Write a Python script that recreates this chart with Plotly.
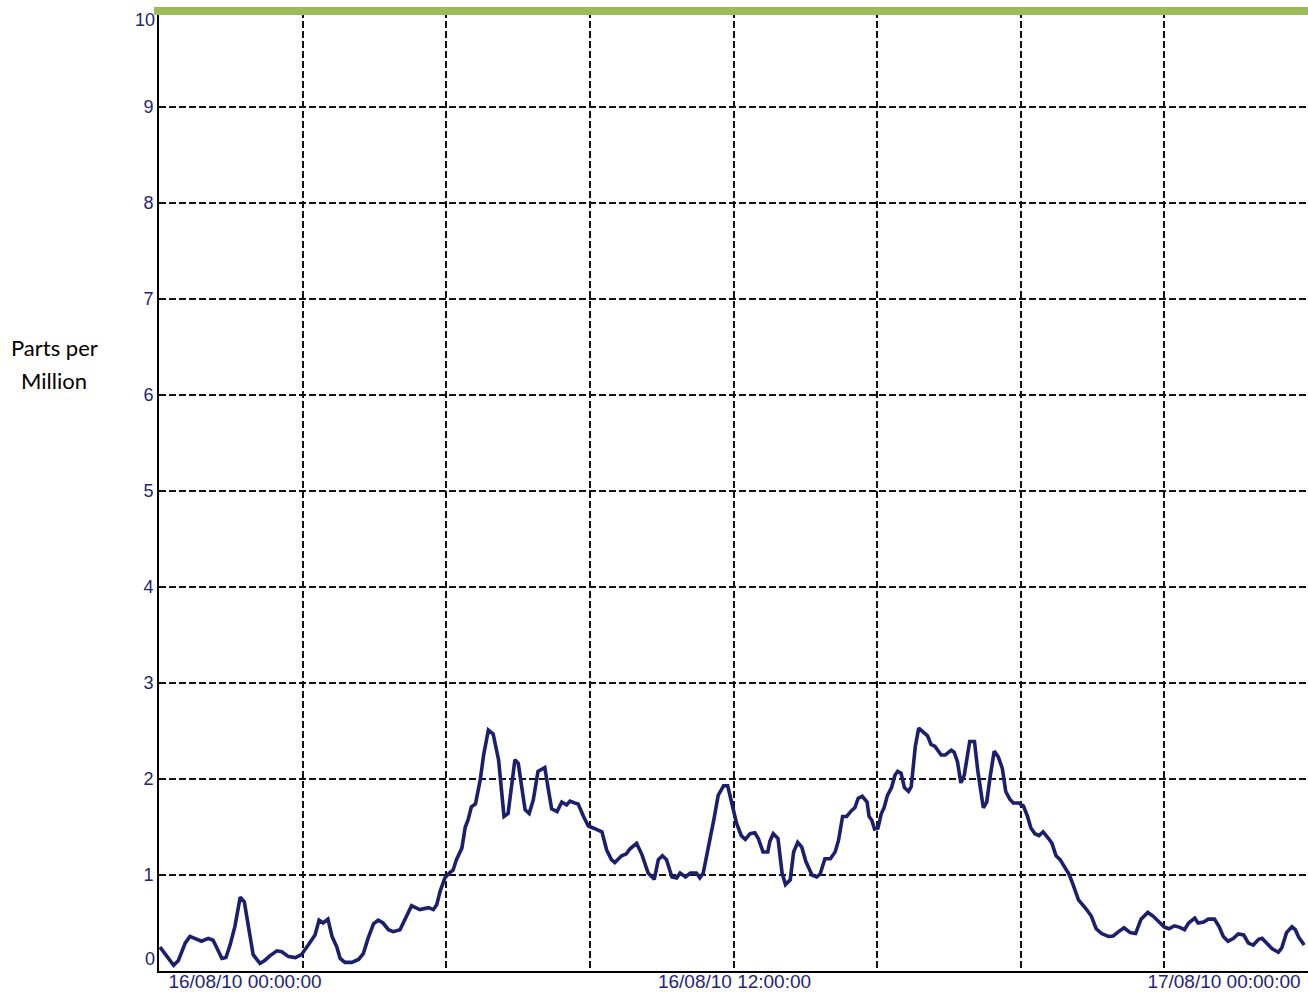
import pandas as pd
import plotly.graph_objects as go

# ---------------- data ----------------
BASE_TIME = "2010-08-16 00:00:00"          # minutes below are offsets from this
MINUTES = [
    -125, -105, -98, -88, -81, -74, -64, -54, -47, -42, -34, -28, -22, -15, -7, -1,
    5, 12, 22, 29, 37, 47, 54, 64, 74, 83, 93, 103, 109, 115, 122, 128, 135, 140,
    147, 157, 167, 174, 181, 189, 196, 203, 211,
    218, 228, 235, 245, 257, 270, 277, 282, 287, 294, 302, 306, 311, 319, 324, 328,
    333, 339, 346, 351, 358, 365, 373, 378, 381, 387, 392, 397, 402, 407, 412, 418,
    424, 431, 441, 446, 451, 459, 466, 473, 478, 485, 490, 498, 505, 512, 525, 532,
    539, 544,
    554, 561, 566, 576, 584, 593, 602, 608, 614, 620, 628, 635, 640, 648, 655, 664,
    669, 674, 681, 687, 690, 696, 704, 710, 716, 723, 730, 736, 743, 750, 755, 762,
    769, 772, 777, 784, 790, 795, 802, 807, 813, 819, 825, 834, 841, 846, 853, 861,
    868, 873, 879, 885,
    892, 897, 902, 908, 915, 918, 922, 926, 931, 936, 940, 945, 951, 956, 960, 965,
    970, 976, 980, 986, 991, 998, 1004, 1009, 1015, 1024, 1030, 1039, 1043, 1048,
    1053, 1058, 1066, 1073, 1078, 1086, 1091, 1096, 1102, 1108, 1114, 1119, 1125,
    1130, 1138, 1145, 1151, 1156, 1162, 1168, 1174, 1182, 1187, 1193, 1199, 1205,
    1212, 1218, 1226,
    1238, 1245, 1252, 1260, 1270, 1277, 1285, 1293, 1302, 1310, 1318, 1328, 1336,
    1343, 1352, 1359, 1367, 1375, 1382, 1388, 1397, 1402, 1410, 1417, 1426, 1433,
    1439, 1446, 1454, 1461, 1469, 1476, 1483, 1491, 1496, 1503, 1511, 1520, 1525,
    1532, 1540, 1545, 1550, 1558,
]
PPM = [
    0.25, 0.06, 0.11, 0.29, 0.36, 0.34, 0.31, 0.34, 0.32, 0.25, 0.13, 0.14, 0.27, 0.46, 0.77, 0.72,
    0.46, 0.17, 0.08, 0.11, 0.16, 0.21, 0.20, 0.15, 0.14, 0.17, 0.27, 0.375, 0.53, 0.50, 0.54, 0.36, 0.25, 0.13,
    0.09, 0.09, 0.12, 0.18, 0.34, 0.49, 0.53, 0.50, 0.43,
    0.41, 0.43, 0.53, 0.68, 0.64, 0.66, 0.64, 0.69, 0.83, 0.97, 1.03, 1.05, 1.16, 1.28, 1.50, 1.57,
    1.71, 1.74, 1.99, 2.25, 2.51, 2.47, 2.20, 1.87, 1.61, 1.64, 1.95, 2.20, 2.16, 1.92, 1.68, 1.64,
    1.78, 2.08, 2.12, 1.90, 1.69, 1.66, 1.76, 1.73, 1.77, 1.75, 1.74, 1.61, 1.51, 1.49, 1.45, 1.26,
    1.16, 1.13,
    1.20, 1.22, 1.27, 1.33, 1.21, 1.02, 0.955, 1.16, 1.20, 1.16, 0.98, 0.97, 1.02, 0.98, 1.02, 1.02,
    0.97, 1.02, 1.26, 1.50, 1.59, 1.83, 1.93, 1.93, 1.76, 1.54, 1.41, 1.37, 1.43, 1.44, 1.38, 1.24,
    1.24, 1.35, 1.43, 1.38, 1.02, 0.90, 0.95, 1.24, 1.34, 1.29, 1.14, 1.00, 0.98, 1.01, 1.17, 1.17,
    1.24, 1.36, 1.61, 1.61,
    1.67, 1.70, 1.80, 1.82, 1.76, 1.61, 1.57, 1.48, 1.49, 1.64, 1.70, 1.83, 1.91, 2.04, 2.08, 2.06,
    1.91, 1.87, 1.92, 2.34, 2.53, 2.48, 2.45, 2.36, 2.34, 2.25, 2.25, 2.30, 2.28, 2.18,
    1.96, 2.04, 2.39, 2.39, 2.08, 1.70, 1.76, 2.02, 2.29, 2.23, 2.11, 1.87, 1.79,
    1.75, 1.75, 1.72, 1.61, 1.49, 1.43, 1.41, 1.45, 1.38, 1.33, 1.20, 1.16, 1.09,
    1.01, 0.90, 0.74,
    0.64, 0.57, 0.44, 0.39, 0.36, 0.365, 0.41, 0.45, 0.40, 0.39, 0.54, 0.61, 0.57,
    0.52, 0.46, 0.44, 0.47, 0.455, 0.43, 0.50, 0.55, 0.50, 0.51, 0.54, 0.54, 0.46,
    0.36, 0.31, 0.34, 0.385, 0.375, 0.29, 0.27, 0.33, 0.34, 0.29, 0.23, 0.195, 0.24,
    0.40, 0.46, 0.43, 0.35, 0.27,
]
X_START = "2010-08-15 21:53:30"
X_END = "2010-08-17 02:03:36"
X_LABEL_TIMES = ["2010-08-16 00:00:00", "2010-08-16 12:00:00", "2010-08-17 00:00:00"]
Y_TICKS = [1, 2, 3, 4, 5, 6, 7, 8, 9]
Y_MIN, Y_MAX = 0, 10
N_X_DIVISIONS = 8
Y_TITLE_LINES = ["Parts per", "Million"]

# ---------------- styling ----------------
W, H = 1308, 994
ML, MR, MT, MB = 159, 0, 11, 23
PW, PH = W - ML - MR, H - MT - MB
NAVY = "#242478"
LINE_COLOR = "#1C1F6C"
GREEN = "#9BBB59"
TICK_FONT = dict(family="Liberation Sans, Arial, sans-serif", size=18, color=NAVY)
X_TICK_FONT = dict(family="Liberation Sans, Arial, sans-serif", size=19, color=NAVY)
GRID = dict(showgrid=True, gridcolor="#111111", gridwidth=1.5, griddash="7px,3px")

times = pd.Timestamp(BASE_TIME) + pd.to_timedelta(MINUTES, unit="min")
t0, t1 = pd.Timestamp(X_START), pd.Timestamp(X_END)
grid_dtick_ms = (t1 - t0).total_seconds() * 1000 / N_X_DIVISIONS

fig = go.Figure()
fig.add_trace(go.Scatter(
    x=times, y=PPM, mode="lines",
    line=dict(color=LINE_COLOR, width=3.6, shape="linear"),
    showlegend=False, hoverinfo="x+y",
))
# helper (empty) trace so the label axis is attached to the subplot
fig.add_trace(go.Scatter(x=[t0], y=[None], xaxis="x2", mode="lines",
                         showlegend=False, hoverinfo="skip"))

fig.update_layout(
    width=W, height=H,
    margin=dict(l=ML, r=MR, t=MT, b=MB, pad=0),
    paper_bgcolor="white", plot_bgcolor="white",
    showlegend=False,
    xaxis=dict(
        type="date", range=[t0, t1],
        tick0=t0, dtick=grid_dtick_ms, tickmode="linear",
        showticklabels=False, ticks="",
        showline=True, linecolor="black", linewidth=2,
        zeroline=False, **GRID,
    ),
    xaxis2=dict(
        type="date", range=[t0, t1], overlaying="x", anchor="y", side="bottom",
        tickmode="array", tickvals=X_LABEL_TIMES,
        tickformat="%d/%m/%y %H:%M:%S",
        showgrid=False, showline=False, ticks="", zeroline=False,
        tickfont=X_TICK_FONT, ticklabelstandoff=-3,
    ),
    yaxis=dict(
        range=[Y_MIN, Y_MAX], tickmode="array", tickvals=Y_TICKS,
        ticks="", tickfont=TICK_FONT,
        showline=True, linecolor="black", linewidth=2,
        zeroline=False, **GRID,
    ),
)

# threshold line at the top of the scale (y = 10)
fig.add_shape(type="rect", xref="paper", yref="paper",
              x0=-5 / PW, x1=1, y0=1 - 4 / PH, y1=1 + 4 / PH,
              fillcolor=GREEN, line=dict(width=0), layer="above")

# end labels of the y scale (drawn nudged inward as in the reference)
fig.add_annotation(xref="paper", yref="y", x=0, y=Y_MAX, text=str(Y_MAX),
                   xanchor="right", yanchor="middle", xshift=-2, yshift=-9,
                   showarrow=False, font=TICK_FONT)
fig.add_annotation(xref="paper", yref="y", x=0, y=Y_MIN, text=str(Y_MIN),
                   xanchor="right", yanchor="middle", xshift=-2, yshift=12,
                   showarrow=False, font=TICK_FONT)

# y-axis title, two lines (positions in page pixels)
title_font = dict(family="Lato, Carlito, Calibri, sans-serif", size=22, color="black")
for i, line in enumerate(Y_TITLE_LINES):
    cx, cy = 54, 347 + 34 * i
    fig.add_annotation(xref="paper", yref="paper", x=(cx - ML) / PW,
                       y=(H - MB - cy) / PH, text=line,
                       xanchor="center", yanchor="middle",
                       showarrow=False, font=title_font)

# remove the page's default body margin so the figure fills the window exactly
fig.write_html(
    "out.html",
    config={"displayModeBar": False},
    post_script="document.body.style.margin='0';document.body.style.overflow='hidden';",
)
